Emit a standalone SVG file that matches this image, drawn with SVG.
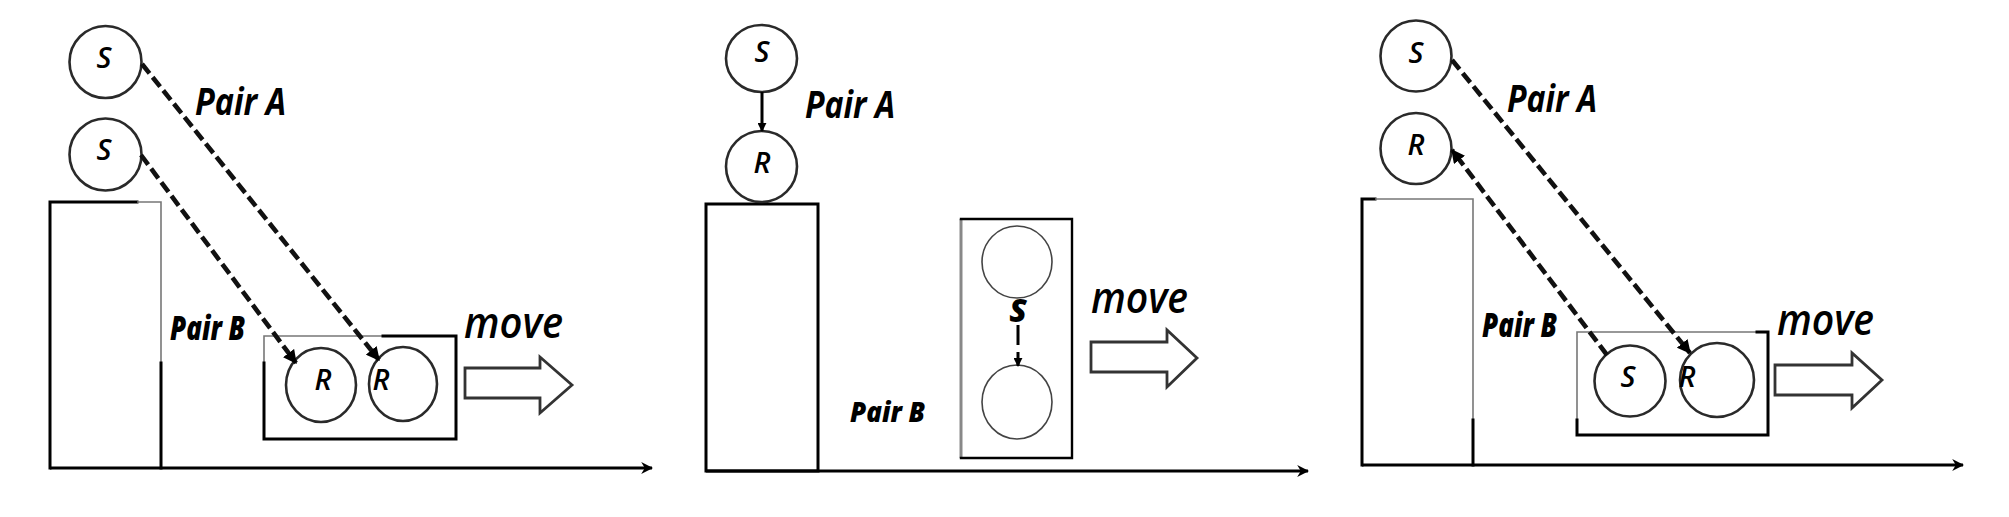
<svg xmlns="http://www.w3.org/2000/svg" width="2009" height="517" viewBox="0 0 2009 517">
<defs>
<marker id="ah" viewBox="0 0 10 10" refX="9" refY="5" markerWidth="3" markerHeight="3" orient="auto" markerUnits="strokeWidth"><path d="M0,0 L10,5 L0,10 Z" fill="#000"/></marker>
<marker id="ax" viewBox="0 0 10 10" refX="9" refY="5" markerWidth="4" markerHeight="4" orient="auto" markerUnits="strokeWidth"><path d="M0,0 L10,5 L0,10 L3,5 Z" fill="#000"/></marker>
</defs>
<style>
.c{fill:#fff;stroke:#2a2a2a;stroke-width:2.6}
.blk{fill:none;stroke:#000;stroke-width:3;stroke-linecap:square}
.gry{fill:none;stroke:#777;stroke-width:1.6}
.dash{fill:none;stroke:#111;stroke-width:4.6;stroke-dasharray:12 5;marker-end:url(#ah)}
.axis{fill:none;stroke:#000;stroke-width:3;marker-end:url(#ax)}
.barrow{fill:#fff;stroke:#333;stroke-width:2.8;stroke-linejoin:miter}
.sym{font-family:"Open Sans","Liberation Sans",sans-serif;font-style:italic;font-weight:600;font-size:29px;fill:#000;text-anchor:middle}
.pa{font-family:"Open Sans","Liberation Sans",sans-serif;font-style:italic;font-weight:700;font-size:38px;fill:#000}
.pb{font-family:"Open Sans","Liberation Sans",sans-serif;font-style:italic;font-weight:800;font-size:33px;fill:#000}
.mv{font-family:"Open Sans","Liberation Sans",sans-serif;font-style:italic;font-weight:600;font-size:44px;fill:#000}
</style>

<!-- Panel 1 -->
<g id="p1-tower">
<path class="blk" d="M50,468 L50,202 L137,202"/>
<path class="gry" d="M137,202 L161,202 L161,363"/>
<path class="blk" d="M161,363 L161,468"/>
</g>
<g id="p1-box">
<path class="gry" d="M383,336 L264,336 L264,363"/>
<path class="blk" d="M383,336 L456,336 L456,439 L264,439 L264,363"/>
</g>
<g id="p1-S1"><circle class="c" cx="105.5" cy="62" r="36"/><text class="sym" x="104" y="68">S</text></g>
<g id="p1-S2"><circle class="c" cx="105.5" cy="154.5" r="36"/><text class="sym" x="104" y="160">S</text></g>
<g id="p1-R1"><ellipse class="c" cx="321" cy="385" rx="35" ry="37"/><text class="sym" x="323" y="390">R</text></g>
<g id="p1-R2"><ellipse class="c" cx="403" cy="384" rx="34" ry="37"/><text class="sym" x="381" y="390">R</text></g>
<g id="p1-labels">
<text class="pa" x="195" y="115" textLength="91" lengthAdjust="spacingAndGlyphs">Pair A</text>
<text class="pb" x="170" y="340" textLength="75" lengthAdjust="spacingAndGlyphs">Pair B</text>
<text class="mv" x="464" y="338" textLength="99" lengthAdjust="spacingAndGlyphs">move</text>
</g>
<g id="p1-move-arrow"><path class="barrow" d="M465,368 L540,368 L540,357 L572,385 L540,413 L540,398 L465,398 Z"/></g>

<!-- Panel 2 -->
<g id="p2-tower"><rect class="blk" x="706" y="204" width="112" height="267"/></g>
<g id="p2-box">
<path d="M961,219 L961,458" fill="none" stroke="#888" stroke-width="3"/>
<path class="blk" d="M961,219 L1072,219 L1072,458 L961,458" style="stroke-width:2.4"/>
</g>
<g id="p2-S"><ellipse class="c" cx="761.5" cy="58.5" rx="35.5" ry="33.5"/><text class="sym" x="762" y="62">S</text></g>
<g id="p2-R"><circle class="c" cx="761.5" cy="166.5" r="35.5"/><text class="sym" x="762" y="173">R</text></g>
<g id="p2-top"><ellipse class="c" cx="1017" cy="262" rx="35" ry="36" style="stroke-width:1.6;stroke:#444"/></g>
<g id="p2-bottom"><ellipse class="c" cx="1017" cy="402" rx="35" ry="37" style="stroke-width:1.6;stroke:#444"/></g>
<g id="p2-labels">
<text class="pa" x="805" y="118" textLength="90" lengthAdjust="spacingAndGlyphs">Pair A</text>
<text class="pb" x="850" y="422" textLength="75" lengthAdjust="spacingAndGlyphs" style="font-size:29px">Pair B</text>
<text class="sym" x="1018" y="322" style="font-weight:800;font-size:32px">S</text>
<text class="mv" x="1091" y="313" textLength="97" lengthAdjust="spacingAndGlyphs">move</text>
</g>
<g id="p2-move-arrow"><path class="barrow" d="M1091,342 L1167,342 L1167,330 L1197,358 L1167,387 L1167,372 L1091,372 Z"/></g>

<!-- Panel 3 -->
<g id="p3-tower">
<path class="blk" d="M1375,199 L1362,199 L1362,465"/>
<path class="gry" d="M1375,199 L1473,199 L1473,420"/>
<path class="blk" d="M1473,420 L1473,465"/>
</g>
<g id="p3-box">
<path class="gry" d="M1757,332 L1577,332 L1577,420"/>
<path class="blk" d="M1757,332 L1768,332 L1768,435 L1577,435 L1577,420"/>
</g>
<g id="p3-S"><circle class="c" cx="1416" cy="56" r="35.5"/><text class="sym" x="1416" y="63">S</text></g>
<g id="p3-R"><circle class="c" cx="1416" cy="148.5" r="35.5"/><text class="sym" x="1416" y="155">R</text></g>
<g id="p3-Sb"><circle class="c" cx="1630" cy="381" r="35.5"/><text class="sym" x="1628" y="387">S</text></g>
<g id="p3-Rb"><circle class="c" cx="1717" cy="380" r="37"/><text class="sym" x="1687" y="387">R</text></g>
<g id="p3-labels">
<text class="pa" x="1507" y="112" textLength="90" lengthAdjust="spacingAndGlyphs">Pair A</text>
<text class="pb" x="1482" y="337" textLength="75" lengthAdjust="spacingAndGlyphs">Pair B</text>
<text class="mv" x="1777" y="335" textLength="97" lengthAdjust="spacingAndGlyphs">move</text>
</g>
<g id="p3-move-arrow"><path class="barrow" d="M1775,365 L1852,365 L1852,353 L1882,380 L1852,408 L1852,395 L1775,395 Z"/></g>

<!-- Connectors -->
<g id="connectors">
<path class="axis" d="M50,468 L652,468"/>
<path class="axis" d="M706,471 L1308,471"/>
<path class="axis" d="M1362,465 L1963,465"/>
<path class="dash" d="M142,64 L379,360"/>
<path class="dash" d="M141,155 L296,363"/>
<path d="M762,92 L762,131" fill="none" stroke="#000" stroke-width="3" marker-end="url(#ah)"/>
<path d="M1018,325 L1018,366" fill="none" stroke="#000" stroke-width="3" stroke-dasharray="20 7" marker-end="url(#ah)"/>
<path class="dash" d="M1452,60 L1690,353"/>
<path class="dash" d="M1607,355 L1452,150"/>
</g>
</svg>
